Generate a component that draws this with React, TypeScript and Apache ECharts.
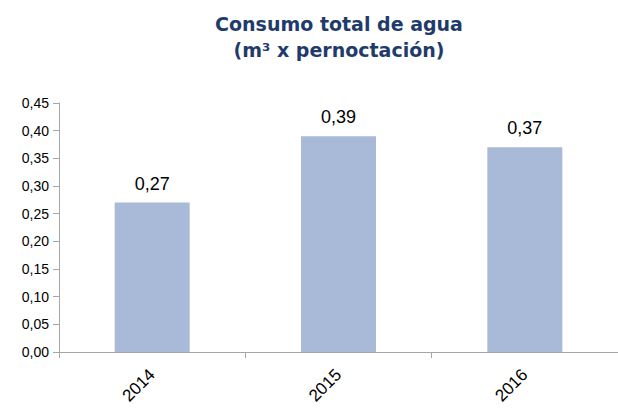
import React, { useEffect, useRef } from "react";
import * as echarts from "echarts";

const categories = ["2014", "2015", "2016"];
const values = [0.27, 0.39, 0.37];
const yTicks = { min: 0, max: 0.45, interval: 0.05 };

export default function App() {
  const ref = useRef<HTMLDivElement>(null);
  useEffect(() => {
    const chart = echarts.init(ref.current!, null, { renderer: "svg" });
    chart.setOption({
      animation: false,
      backgroundColor: "#ffffff",
      title: {
        text: "Consumo total de agua\n(m³ x pernoctación)",
        left: 334,
        top: 6,
        textAlign: "center",
        textStyle: {
          fontFamily: "DejaVu Sans",
          fontWeight: "bold",
          fontSize: 19,
          color: "#1F3B6B",
          lineHeight: 26,
        },
      },
      grid: { left: 59, right: 0, top: 103, bottom: 56, containLabel: false },
      xAxis: {
        type: "category",
        data: categories,
        axisLine: { lineStyle: { color: "#A6A6A6", width: 1 } },
        axisTick: { show: true, length: 6, lineStyle: { color: "#A6A6A6" }, alignWithLabel: false },
        axisLabel: {
          rotate: 45,
          fontFamily: "Liberation Sans",
          fontSize: 17,
          color: "#000000",
          margin: 20,
        },
      },
      yAxis: {
        type: "value",
        min: yTicks.min,
        max: yTicks.max,
        interval: yTicks.interval,
        splitLine: { show: false },
        axisLine: { show: true, lineStyle: { color: "#A6A6A6", width: 1 } },
        axisTick: { show: true, length: 6, lineStyle: { color: "#A6A6A6" } },
        axisLabel: {
          fontFamily: "Liberation Sans",
          fontSize: 14,
          color: "#000000",
          margin: 10,
          formatter: (v: number) => v.toFixed(2).replace(".", ","),
        },
      },
      series: [
        {
          type: "bar",
          data: values,
          barWidth: 75,
          itemStyle: { color: "#A9B9D8" },
          label: {
            show: true,
            position: "top",
            distance: 10,
            fontFamily: "Liberation Sans",
            fontSize: 18,
            color: "#000000",
            formatter: (p: any) => p.value.toFixed(2).replace(".", ","),
          },
        },
      ],
    });
    return () => chart.dispose();
  }, []);
  return <div ref={ref} style={{ width: 618, height: 408, position: "absolute", left: 0, top: 0 }} />;
}
